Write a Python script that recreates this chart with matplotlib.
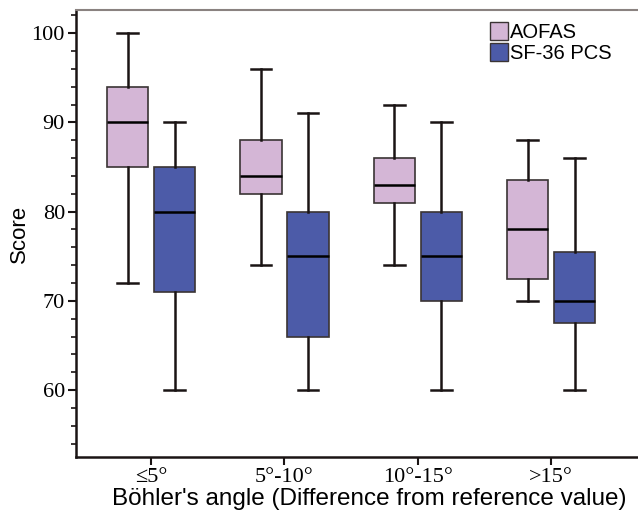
import matplotlib
matplotlib.use('Agg')
import matplotlib.pyplot as plt
from matplotlib.patches import Patch
from matplotlib.ticker import MultipleLocator

# groups on the x axis
groups = ['≤5°', '5°-10°', '10°-15°', '>15°']
series = ['AOFAS', 'SF-36 PCS']
colors = ['#D4B6D6', '#4C5BA8']

# box stats per group: whislo, q1, median, q3, whishi
aofas_lo = [72, 74, 74, 70]
aofas_q1 = [85, 82, 81, 72.5]
aofas_med = [90, 84, 83, 78]
aofas_q3 = [94, 88, 86, 83.5]
aofas_hi = [100, 96, 92, 88]

sf_lo = [60, 60, 60, 60]
sf_q1 = [71, 66, 70, 67.5]
sf_med = [80, 75, 75, 70]
sf_q3 = [85, 80, 80, 75.5]
sf_hi = [90, 91, 90, 86]


def make_stats(lo, q1, med, q3, hi):
    return [dict(whislo=a, q1=b, med=c, q3=d, whishi=e, fliers=[])
            for a, b, c, d, e in zip(lo, q1, med, q3, hi)]


stats = [make_stats(aofas_lo, aofas_q1, aofas_med, aofas_q3, aofas_hi),
         make_stats(sf_lo, sf_q1, sf_med, sf_q3, sf_hi)]

fig = plt.figure(figsize=(6.38, 5.21), dpi=100)
ax = fig.add_axes([76 / 638, 1 - 457 / 521, 1 - 76 / 638, (457 - 10) / 521])

offsets = [-0.176, 0.176]
x = list(range(1, len(groups) + 1))
for s, st in enumerate(stats):
    pos = [p + offsets[s] for p in x]
    ax.bxp(st, positions=pos, widths=0.31, capwidths=0.155, patch_artist=True,
           showfliers=False,
           boxprops=dict(facecolor=colors[s], edgecolor='#3a3434', linewidth=1.2),
           medianprops=dict(color='black', linewidth=1.8),
           whiskerprops=dict(color='#1a1414', linewidth=1.8),
           capprops=dict(color='#1a1414', linewidth=1.8))

ax.set_xlim(0.4375, 4.65)
ax.set_ylim(52.5, 102.6)
ax.set_xticks(x)
ax.set_xticklabels(groups, family=['Liberation Serif', 'DejaVu Serif'], fontsize=16)
ax.yaxis.set_major_locator(MultipleLocator(10))
ax.yaxis.set_minor_locator(MultipleLocator(2))
ax.set_yticks([60, 70, 80, 90, 100])
for lab in ax.get_yticklabels():
    lab.set_family(['Liberation Serif', 'DejaVu Serif'])
    lab.set_fontsize(16)

ax.tick_params(axis='both', which='major', direction='out', length=6, width=1.5, color='#1a1414')
ax.tick_params(axis='y', which='minor', direction='out', length=3.5, width=1.2, color='#1a1414')
ax.tick_params(axis='x', pad=2)
ax.tick_params(axis='y', pad=2)

ax.spines['left'].set_linewidth(1.8)
ax.spines['bottom'].set_linewidth(1.8)
ax.spines['left'].set_color('#1a1414')
ax.spines['bottom'].set_color('#1a1414')
ax.spines['top'].set_color('#8a8280')
ax.spines['top'].set_linewidth(1.5)
ax.spines['right'].set_visible(False)

ax.set_ylabel('Score', family='Liberation Sans', fontsize=16, labelpad=1)
ax.set_xlabel("Böhler's angle (Difference from reference value)", family='Liberation Sans',
              fontsize=17.5)
ax.xaxis.set_label_coords(0.521, -0.069)

handles = [Patch(facecolor=colors[i], edgecolor='#3a3434', label=series[i]) for i in range(2)]
leg = ax.legend(handles=handles, loc='upper right', bbox_to_anchor=(0.978, 1.004), frameon=False,
                prop={'family': 'Liberation Sans', 'size': 14.5}, handlelength=0.9,
                handleheight=1.0, handletextpad=0.1, labelspacing=0.05, borderaxespad=0.3)

fig.savefig('out.png', dpi=100)
